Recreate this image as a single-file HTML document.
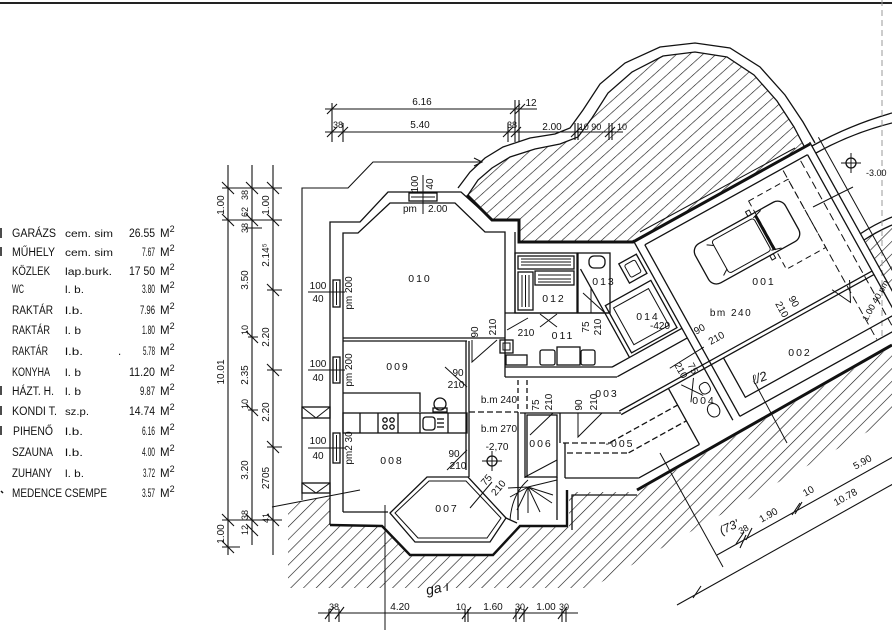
<!DOCTYPE html>
<html><head><meta charset="utf-8">
<style>
html,body{margin:0;padding:0;background:#fff;}
svg{display:block;}
text{font-family:"Liberation Sans",sans-serif;fill:#111;}
</style></head><body>
<svg width="892" height="630" viewBox="0 0 892 630" xmlns="http://www.w3.org/2000/svg">
<defs>
<pattern id="hb" width="9" height="9" patternUnits="userSpaceOnUse" patternTransform="rotate(45)">
<line x1="0" y1="0" x2="0" y2="9" stroke="#111" stroke-width="1.2"/>
</pattern>
<pattern id="ht" width="8.8" height="8.8" patternUnits="userSpaceOnUse" patternTransform="rotate(48)">
<line x1="0" y1="0" x2="0" y2="8.8" stroke="#111" stroke-width="1.2"/>
</pattern>
</defs>
<rect width="892" height="630" fill="#fff"/>
<line x1="0" y1="3" x2="892" y2="3" stroke="#222" stroke-width="2"/>

<!-- ===== TABLE ===== -->
<g font-size="11.5">
<text x="12" y="237" textLength="44" lengthAdjust="spacingAndGlyphs">GARÁZS</text><text x="65" y="237" textLength="48" lengthAdjust="spacingAndGlyphs" font-size="10">cem. sim</text><text x="129" y="237" textLength="26" lengthAdjust="spacingAndGlyphs">26.55</text><text x="160" y="237">M<tspan dy="-5" font-size="9">2</tspan></text>
<text x="12" y="256" textLength="43" lengthAdjust="spacingAndGlyphs">MŰHELY</text><text x="65" y="256" textLength="48" lengthAdjust="spacingAndGlyphs" font-size="10">cem. sim</text><text x="142" y="256" textLength="13" lengthAdjust="spacingAndGlyphs">7.67</text><text x="160" y="256">M<tspan dy="-5" font-size="9">2</tspan></text>
<text x="12" y="275" textLength="38" lengthAdjust="spacingAndGlyphs">KÖZLEK</text><text x="65" y="275" textLength="47" lengthAdjust="spacingAndGlyphs" font-size="10">lap.burk.</text><text x="129" y="275" textLength="26" lengthAdjust="spacingAndGlyphs">17 50</text><text x="160" y="275">M<tspan dy="-5" font-size="9">2</tspan></text>
<text x="12" y="293" textLength="12" lengthAdjust="spacingAndGlyphs">WC</text><text x="65" y="293" textLength="19" lengthAdjust="spacingAndGlyphs" font-size="10">l. b.</text><text x="142" y="293" textLength="13" lengthAdjust="spacingAndGlyphs">3.80</text><text x="160" y="293">M<tspan dy="-5" font-size="9">2</tspan></text>
<text x="12" y="314" textLength="41" lengthAdjust="spacingAndGlyphs">RAKTÁR</text><text x="65" y="314" textLength="18" lengthAdjust="spacingAndGlyphs" font-size="10">l.b.</text><text x="140" y="314" textLength="15" lengthAdjust="spacingAndGlyphs">7.96</text><text x="160" y="314">M<tspan dy="-5" font-size="9">2</tspan></text>
<text x="12" y="334" textLength="38" lengthAdjust="spacingAndGlyphs">RAKTÁR</text><text x="65" y="334" textLength="16" lengthAdjust="spacingAndGlyphs" font-size="10">l. b</text><text x="142" y="334" textLength="13" lengthAdjust="spacingAndGlyphs">1.80</text><text x="160" y="334">M<tspan dy="-5" font-size="9">2</tspan></text>
<text x="12" y="355" textLength="36" lengthAdjust="spacingAndGlyphs">RAKTÁR</text><text x="65" y="355" textLength="18" lengthAdjust="spacingAndGlyphs" font-size="10">l.b.</text><text x="118" y="355">.</text><text x="143" y="355" textLength="12" lengthAdjust="spacingAndGlyphs">5.78</text><text x="160" y="355">M<tspan dy="-5" font-size="9">2</tspan></text>
<text x="12" y="376" textLength="38" lengthAdjust="spacingAndGlyphs">KONYHA</text><text x="65" y="376" textLength="16" lengthAdjust="spacingAndGlyphs" font-size="10">l. b</text><text x="129" y="376" textLength="26" lengthAdjust="spacingAndGlyphs">11.20</text><text x="160" y="376">M<tspan dy="-5" font-size="9">2</tspan></text>
<text x="12" y="395" textLength="42" lengthAdjust="spacingAndGlyphs">HÁZT. H.</text><text x="65" y="395" textLength="16" lengthAdjust="spacingAndGlyphs" font-size="10">l. b</text><text x="140" y="395" textLength="15" lengthAdjust="spacingAndGlyphs">9.87</text><text x="160" y="395">M<tspan dy="-5" font-size="9">2</tspan></text>
<text x="12" y="415" textLength="45" lengthAdjust="spacingAndGlyphs">KONDI T.</text><text x="65" y="415" textLength="24" lengthAdjust="spacingAndGlyphs" font-size="10">sz.p.</text><text x="129" y="415" textLength="26" lengthAdjust="spacingAndGlyphs">14.74</text><text x="160" y="415">M<tspan dy="-5" font-size="9">2</tspan></text>
<text x="13" y="435" textLength="40" lengthAdjust="spacingAndGlyphs">PIHENŐ</text><text x="65" y="435" textLength="18" lengthAdjust="spacingAndGlyphs" font-size="10">l.b.</text><text x="142" y="435" textLength="13" lengthAdjust="spacingAndGlyphs">6.16</text><text x="160" y="435">M<tspan dy="-5" font-size="9">2</tspan></text>
<text x="12" y="456" textLength="41" lengthAdjust="spacingAndGlyphs">SZAUNA</text><text x="65" y="456" textLength="18" lengthAdjust="spacingAndGlyphs" font-size="10">l.b.</text><text x="142" y="456" textLength="13" lengthAdjust="spacingAndGlyphs">4.00</text><text x="160" y="456">M<tspan dy="-5" font-size="9">2</tspan></text>
<text x="12" y="477" textLength="40" lengthAdjust="spacingAndGlyphs">ZUHANY</text><text x="65" y="477" textLength="19" lengthAdjust="spacingAndGlyphs" font-size="10">l. b.</text><text x="143" y="477" textLength="12" lengthAdjust="spacingAndGlyphs">3.72</text><text x="160" y="477">M<tspan dy="-5" font-size="9">2</tspan></text>
<text x="12" y="497" textLength="95" lengthAdjust="spacingAndGlyphs">MEDENCE CSEMPE</text><text x="142" y="497" textLength="13" lengthAdjust="spacingAndGlyphs">3.57</text><text x="160" y="497">M<tspan dy="-5" font-size="9">2</tspan></text>
</g>
<g stroke="#111" stroke-width="1.5">
<line x1="1" y1="228" x2="1" y2="238"/><line x1="1" y1="247" x2="1" y2="256"/><line x1="1" y1="386" x2="1" y2="395"/><line x1="1" y1="406" x2="1" y2="415"/><line x1="1" y1="426" x2="1" y2="435"/><line x1="1" y1="491" x2="3" y2="493"/>
</g>

<!-- ===== HATCHES ===== -->
<path d="M468,195 L478,180 L492,168 L510,157 L535,149 L560,144 L578,137 L592,118 L608,93 L632,72 L663,56 L695,52 L727,57 L754,75 L777,101 L794,127 L804,146 L633,241 L519,241 L519,219 L492,219 Z" fill="url(#ht)"/>
<path d="M288,504 L330,496 L330,525 L382,527 L410,556 L493,556 L520,527 L569,527 L569,492 L637,492 L892,347 L892,418 L591,588 L288,588 Z" fill="url(#hb)"/>
<path d="M864,238 L892,224 L892,290 Z" fill="url(#hb)"/>

<g fill="none" stroke="#111" stroke-width="1.3">
<!-- top curved terrace outlines -->
<path d="M458,188 L470,172 L485,158 L503,147 L530,138 L555,134 L570,128 L583,110 L600,84 L625,63 L660,47 L695,43 L730,48 L760,67 L785,95 L803,122 L815,143"/>
<path d="M468,195 L478,180 L492,168 L510,157 L535,149 L560,144 L578,137 L592,118 L608,93 L632,72 L663,56 L695,52 L727,57 L754,75 L777,101 L794,127 L804,146"/>
<path d="M467,195 L492,220 L519,220 L519,242 L633,242 L810,144" stroke-width="3"/>
<path d="M640,232 L795,148" stroke-width="1"/>
<!-- right arcs -->
<path d="M812,146 Q850,125 892,113"/>
<path d="M816,153 Q852,133 892,123"/>
<path d="M860,234 Q875,224 892,217"/>
<path d="M864,240 Q878,231 892,225"/>
<line x1="882" y1="0" x2="882" y2="340" stroke="#999" stroke-width="1" stroke-dasharray="6,4"/>
<line x1="813" y1="207" x2="853" y2="187" stroke-width="1"/>

<!-- thin outer terrain line -->
<path d="M302,500 L302,188 L348,188 L373,162 L480,162" stroke-width="1.1"/>
<path d="M474,158 L482,162 L474,166" stroke-width="1.1"/>
<line x1="272" y1="507" x2="360" y2="490" stroke-width="1.1"/>
<line x1="385" y1="505" x2="385" y2="630" stroke-width="1"/>

<!-- left block walls -->
<path d="M330,525 L330,222 L360,222 L388,192 L461,192 L490,218"/>
<path d="M343,512 L343,233 L358,233 L390,203 L455,203 L485,232 L505,232 L505,377"/>
<path d="M330,525 L382,526 L410,555 L493,555 L520,526 L567,526 L567,490" stroke-width="2.4"/>
<path d="M572,530 L572,495 L637,495"/>
<path d="M637,490 L892,345" stroke-width="3"/>
<line x1="343" y1="512" x2="388" y2="512"/>
<!-- 007 bay -->
<path d="M390,513 L427,477 L468,477 L506,518 L490,542 L415,542 Z"/>
<path d="M395,513 L429,481 L466,481 L501,518 L487,538 L418,538 Z" stroke-width="1"/>
<line x1="506" y1="518" x2="517" y2="523"/>
<!-- room dividers -->
<line x1="343" y1="338" x2="505" y2="338"/><line x1="343" y1="341" x2="467" y2="341"/>
<line x1="466" y1="341" x2="466" y2="470"/><line x1="469" y1="341" x2="469" y2="477"/>
<path d="M343,393 L420,393 L420,412"/>
<rect x="343" y="413" width="124" height="20"/>
<line x1="360" y1="413" x2="360" y2="433"/><line x1="378" y1="413" x2="378" y2="433"/><line x1="398" y1="413" x2="398" y2="433"/><line x1="420" y1="413" x2="420" y2="433"/><line x1="448" y1="413" x2="448" y2="433"/>
<circle cx="385" cy="420" r="2.2"/><circle cx="392" cy="420" r="2.2"/><circle cx="385" cy="427" r="2.2"/><circle cx="392" cy="427" r="2.2"/>
<rect x="423" y="417" width="12" height="13" rx="3"/><line x1="437" y1="419" x2="444" y2="419"/><line x1="437" y1="423" x2="444" y2="423"/><line x1="437" y1="427" x2="444" y2="427"/>
<ellipse cx="440" cy="404" rx="6" ry="6"/><rect x="433" y="408" width="14" height="4"/>
<!-- corridor -->
<line x1="469" y1="412" x2="518" y2="412" stroke-dasharray="6,3"/>
<line x1="518" y1="380" x2="518" y2="412" stroke-dasharray="5,3"/><line x1="527" y1="380" x2="527" y2="412" stroke-dasharray="5,3"/>
<!-- 012 / 013 -->
<line x1="515" y1="232" x2="515" y2="313"/>
<rect x="515" y="253" width="62" height="60"/>
<rect x="578" y="253" width="32" height="60"/>
<rect x="518" y="256" width="56" height="13"/>
<line x1="521" y1="259" x2="571" y2="259" stroke-width="1"/><line x1="521" y1="262" x2="571" y2="262" stroke-width="1"/><line x1="521" y1="265" x2="571" y2="265" stroke-width="1"/>
<rect x="535" y="271" width="39" height="14"/>
<line x1="538" y1="275" x2="571" y2="275" stroke-width="1"/><line x1="538" y1="279" x2="571" y2="279" stroke-width="1"/><line x1="538" y1="282" x2="571" y2="282" stroke-width="1"/>
<rect x="518" y="272" width="15" height="38"/>
<line x1="522" y1="275" x2="522" y2="307" stroke-width="1"/><line x1="525.5" y1="275" x2="525.5" y2="307" stroke-width="1"/><line x1="529" y1="275" x2="529" y2="307" stroke-width="1"/>
<rect x="589" y="256" width="16" height="12" rx="5"/>
<line x1="591" y1="287" x2="591" y2="313" stroke-width="1"/><line x1="583" y1="293" x2="605" y2="313" stroke-width="1"/>
<!-- 011 -->
<line x1="505" y1="313" x2="610" y2="313"/>
<path d="M505,367 L612,367"/><path d="M505,377 L617,377"/>
<rect x="500" y="340" width="13" height="13"/><rect x="503" y="343" width="7" height="7" stroke-width="1"/>
<rect x="506" y="355" width="21" height="10"/>
<rect x="540" y="350" width="15" height="15" rx="2"/><rect x="557" y="347" width="23" height="18"/><rect x="581" y="350" width="14" height="15" rx="2"/>
<path d="M540,314 L557,327 M557,314 L540,327" stroke-width="1"/>
<!-- 003 / 006 / 005 / stair -->
<line x1="520" y1="413" x2="621" y2="413"/>
<line x1="518" y1="412" x2="518" y2="520"/><line x1="525" y1="413" x2="525" y2="478"/>
<rect x="527" y="415" width="30" height="62"/>
<line x1="560" y1="413" x2="560" y2="443"/>
<line x1="563" y1="443" x2="611" y2="443" stroke-dasharray="6,3"/>
<line x1="567" y1="453" x2="628" y2="453" stroke-dasharray="6,3"/>
<line x1="565" y1="443" x2="565" y2="478"/><line x1="565" y1="478" x2="638" y2="478"/>
<path d="M525,477 L557,460 M525,477 L557,477 M528,487 L557,480 M528,487 L553,495 M528,487 L552,503 M528,487 L540,512 M528,487 L528,513 M528,487 L517,510 M528,487 L510,497 M528,487 L508,488" stroke-width="1"/>
<path d="M510,520 Q512,494 528,480" stroke-width="1"/>
<line x1="557" y1="477" x2="557" y2="520"/>
<!-- door swings -->
<path d="M472,340 L472,362 L497,340" stroke-width="1"/>
<path d="M507,330 L528,318" stroke-width="1"/>
<path d="M445,367 L467,387" stroke-width="1"/>
<path d="M447,470 L467,450" stroke-width="1"/>
<path d="M530,435 L553,413" stroke-width="1"/>
<path d="M578,413 L578,437 L602,413" stroke-width="1"/>
<path d="M470,508 L492,482" stroke-width="1"/>
<!-- left windows & wells -->
<rect x="333" y="280" width="7" height="27"/><line x1="336.5" y1="282" x2="336.5" y2="305" stroke-width="1"/>
<rect x="333" y="357" width="7" height="26"/><line x1="336.5" y1="359" x2="336.5" y2="381" stroke-width="1"/>
<rect x="333" y="433" width="7" height="30"/><line x1="336.5" y1="435" x2="336.5" y2="461" stroke-width="1"/>
<line x1="308" y1="292" x2="345" y2="292" stroke-width="1"/><line x1="308" y1="370" x2="345" y2="370" stroke-width="1"/><line x1="308" y1="448" x2="345" y2="448" stroke-width="1"/>
<rect x="302" y="407" width="28" height="11"/><path d="M302,407 L316,418 L330,407" stroke-width="1"/>
<rect x="302" y="483" width="28" height="10"/><path d="M302,483 L316,493 L330,483" stroke-width="1"/>
<rect x="409" y="193" width="28" height="8"/><line x1="411" y1="197" x2="435" y2="197" stroke-width="1"/>
<line x1="423" y1="175" x2="423" y2="214" stroke-width="1"/>

<!-- crosshairs -->
<circle cx="492" cy="461" r="5"/><path d="M482,461 H502 M492,451 V471" stroke-width="1"/>
<circle cx="851" cy="163" r="5"/><path d="M841,163 H861 M851,153 V173" stroke-width="1"/>

<!-- ===== ROTATED GARAGE PART ===== -->
<g transform="translate(633,240) rotate(-29)">
<line x1="0" y1="0" x2="0" y2="206"/><line x1="8" y1="10" x2="8" y2="206"/>
<line x1="8" y1="10" x2="194" y2="10"/>
<line x1="194" y1="10" x2="194" y2="240"/><line x1="202" y1="0" x2="202" y2="240"/><line x1="212" y1="0" x2="212" y2="240" stroke-width="1"/>
<line x1="-95" y1="143" x2="194" y2="143"/><line x1="-95" y1="147" x2="194" y2="147"/>
<line x1="-80" y1="101" x2="0" y2="101"/><line x1="-80" y1="112" x2="0" y2="112"/>
<path d="M22,147 L22,192 L194,192"/>
<line x1="8" y1="206" x2="240" y2="206"/>
<line x1="-41" y1="147" x2="-41" y2="211"/>
<line x1="-111" y1="211" x2="-41" y2="211"/>
<line x1="-118" y1="166" x2="-41" y2="166" stroke-dasharray="6,3"/>
<line x1="-107" y1="184" x2="-41" y2="184" stroke-dasharray="6,3"/>
<rect x="-56" y="44" width="52" height="54"/>
<rect x="-50" y="50" width="40" height="42" stroke-width="1"/>
<rect x="-24" y="14" width="20" height="22"/>
<rect x="-20" y="18" width="12" height="14" rx="2" stroke-width="1"/>
<line x1="-60" y1="0" x2="-60" y2="101"/>
<!-- car -->
<rect x="47" y="35" width="103" height="45" rx="9"/>
<rect x="68" y="39" width="48" height="37" rx="3" stroke-width="1"/>
<path d="M116,39 L126,36 M116,76 L126,79 M62,40 L68,44 M62,75 L68,71" stroke-width="1"/>
<line x1="119" y1="38" x2="119" y2="77" stroke-width="3"/>
<rect x="112" y="30" width="4" height="5" stroke-width="1"/><rect x="112" y="80" width="4" height="5" stroke-width="1"/>
<!-- dashed parking lines -->
<rect x="120" y="22" width="45" height="78" stroke-dasharray="6,4" stroke-width="1"/>
<line x1="165" y1="12" x2="165" y2="205" stroke-dasharray="8,4" stroke-width="1"/>
<line x1="185" y1="12" x2="185" y2="205" stroke-dasharray="8,4" stroke-width="1"/>
<!-- 004 fixtures -->
<rect x="-14" y="159" width="10" height="11" rx="4" stroke-width="1"/>
<ellipse cx="-12" cy="188" rx="6" ry="7" stroke-width="1"/>
<!-- doors -->
<path d="M-30,130 L10,128" stroke-width="1"/>
<path d="M-28,150 L-14,170 M-14,150 L-28,170" stroke-width="1"/>
<path d="M150,140 L160,160 L170,140" stroke-width="1"/>
</g>

<!-- lower right dims (rotated ~29deg) -->
<line x1="717" y1="555" x2="893" y2="457" stroke-width="1.1"/>
<line x1="677" y1="605" x2="893" y2="484" stroke-width="1.1"/>
<path d="M736,544 L744,532 M740,548 L746,535 M746,540 L752,528 M792,515 L800,503 M795,514 L802,502 M693,598 L701,586" stroke-width="1.1"/>
<line x1="660" y1="453" x2="723" y2="567" stroke-width="1"/>
<line x1="755" y1="383" x2="787" y2="443" stroke-width="1"/>

<!-- top dims -->
<line x1="325" y1="109" x2="537" y2="109" stroke-width="1.1"/>
<line x1="325" y1="132" x2="623" y2="132" stroke-width="1.1"/>
<path d="M332,103 V142 M343,123 V142 M508,123 V142 M515,100 V142 M519,100 V142 M575,123 V140 M578,123 V140 M609,123 V140 M612,123 V140" stroke-width="1.1"/>
<path d="M327,114 L337,104 M327,137 L337,127 M338,137 L348,127 M503,137 L513,127 M510,114 L520,104 M515,114 L525,104 M511,137 L521,127 M571,137 L581,127 M605,137 L615,127" stroke-width="1.1"/>

<!-- left dims -->
<line x1="228" y1="165" x2="228" y2="555" stroke-width="1.1"/>
<line x1="252" y1="165" x2="252" y2="545" stroke-width="1.1"/>
<line x1="273" y1="165" x2="273" y2="555" stroke-width="1.1"/>
<path d="M222,188 H282 M222,220 H282 M222,520 H282 M222,547 H240 M267,290 H282 M267,370 H282 M267,447 H282 M248,337 H258 M248,410 H258 M246,228 H262" stroke-width="1.1"/>
<path d="M222,182 L234,194 M246,182 L258,194 M267,182 L279,194 M222,214 L234,226 M246,214 L258,226 M267,214 L279,226 M267,284 L279,296 M267,364 L279,376 M267,441 L279,453 M246,331 L258,343 M246,404 L258,416 M222,514 L234,526 M246,514 L258,526 M267,514 L279,526 M222,541 L234,553 M246,524 L258,536" stroke-width="1.1"/>
<path d="M329,609 V622 M339,609 V622 M465,609 V622 M468,609 V622 M516,609 V622 M524,609 V622 M562,609 V622 M566,609 V622" stroke-width="1.1"/>
<path d="M325,619 L334,607 M335,619 L344,607 M462,619 L471,607 M513,619 L521,607 M519,619 L528,607 M558,619 L567,607" stroke-width="1.1"/>
<line x1="318" y1="613" x2="578" y2="613" stroke-width="1.1"/>
</g>

<!-- ===== PLAN TEXT ===== -->
<g font-size="10.5" letter-spacing="2">
<text x="420" y="282" text-anchor="middle">010</text>
<text x="398" y="370" text-anchor="middle">009</text>
<text x="392" y="464" text-anchor="middle">008</text>
<text x="447" y="512" text-anchor="middle">007</text>
<text x="541" y="447" text-anchor="middle">006</text>
<text x="607" y="397" text-anchor="middle">003</text>
<text x="563" y="339" text-anchor="middle">011</text>
<text x="554" y="302" text-anchor="middle">012</text>
<text x="604" y="285" text-anchor="middle">013</text>
<text x="764" y="285" text-anchor="middle">001</text>
<text x="800" y="356" text-anchor="middle">002</text>
<text x="704" y="404" text-anchor="middle">004</text>
<text x="648" y="320" text-anchor="middle">014</text>
<text x="620" y="447" text-anchor="middle">-005</text>
</g>
<g font-size="10">
<text x="731" y="316" text-anchor="middle" letter-spacing="1.5">bm 240</text>
<text x="660" y="329" text-anchor="middle">-420</text>
<text x="499" y="403" text-anchor="middle">b.m 240</text>
<text x="499" y="432" text-anchor="middle">b.m 270</text>
<text x="497" y="450" text-anchor="middle">-2,70</text>
<text x="866" y="176" font-size="9">-3.00</text>
<text x="403" y="212">pm</text><text x="428" y="212">2.00</text>
<text transform="translate(418,184) rotate(-90)" text-anchor="middle">100</text>
<text transform="translate(433,184) rotate(-90)" text-anchor="middle">40</text>
<text x="318" y="289" text-anchor="middle">100</text><text x="318" y="302" text-anchor="middle">40</text>
<text x="318" y="367" text-anchor="middle">100</text><text x="318" y="381" text-anchor="middle">40</text>
<text x="318" y="444" text-anchor="middle">100</text><text x="318" y="459" text-anchor="middle">40</text>
<text transform="translate(352,293) rotate(-90)" text-anchor="middle">pm 200</text>
<text transform="translate(352,370) rotate(-90)" text-anchor="middle">pm 200</text>
<text transform="translate(352,448) rotate(-90)" text-anchor="middle">pm2 30</text>
<!-- door labels -->
<text transform="translate(478,332) rotate(-90)" text-anchor="middle">90</text>
<text transform="translate(496,327) rotate(-90)" text-anchor="middle">210</text>
<text x="526" y="336" text-anchor="middle">210</text>
<text transform="translate(589,327) rotate(-90)" text-anchor="middle">75</text>
<text transform="translate(601,327) rotate(-90)" text-anchor="middle">210</text>
<text x="458" y="376" text-anchor="middle">90</text>
<text x="456" y="388" text-anchor="middle">210</text>
<text transform="translate(539,405) rotate(-90)" text-anchor="middle">75</text>
<text transform="translate(552,402) rotate(-90)" text-anchor="middle">210</text>
<text transform="translate(582,405) rotate(-90)" text-anchor="middle">90</text>
<text transform="translate(597,402) rotate(-90)" text-anchor="middle">210</text>
<text x="454" y="457" text-anchor="middle">90</text>
<text x="458" y="469" text-anchor="middle">210</text>
<text transform="translate(489,482) rotate(-50)" text-anchor="middle">75</text>
<text transform="translate(501,490) rotate(-50)" text-anchor="middle">210</text>
<text transform="translate(701,332) rotate(-29)" text-anchor="middle">90</text>
<text transform="translate(718,341) rotate(-29)" text-anchor="middle">210</text>
<text transform="translate(690,370) rotate(61)" text-anchor="middle">75</text>
<text transform="translate(678,372) rotate(61)" text-anchor="middle">210</text>
<text transform="translate(791,303) rotate(61)" text-anchor="middle">90</text>
<text transform="translate(779,311) rotate(61)" text-anchor="middle">210</text>
<text transform="translate(878,302) rotate(-61)" text-anchor="middle" font-size="9">1.00 40 pm</text>
<!-- top dims -->
<text x="422" y="105" text-anchor="middle">6.16</text>
<text x="420" y="128" text-anchor="middle">5.40</text>
<text x="338" y="128" text-anchor="middle" font-size="9">38</text>
<text x="512" y="128" text-anchor="middle" font-size="9">38</text>
<text x="531" y="106" text-anchor="middle">12</text>
<text x="552" y="130" text-anchor="middle">2.00</text>
<text x="590" y="130" text-anchor="middle" font-size="9">10 90</text>
<text x="622" y="130" text-anchor="middle" font-size="9">10</text>
<!-- left dims -->
<text transform="translate(224,205) rotate(-90)" text-anchor="middle">1.00</text>
<text transform="translate(224,372) rotate(-90)" text-anchor="middle">10.01</text>
<text transform="translate(224,534) rotate(-90)" text-anchor="middle">1.00</text>
<text transform="translate(248,195) rotate(-90)" text-anchor="middle" font-size="9">38</text>
<text transform="translate(248,212) rotate(-90)" text-anchor="middle" font-size="9">62</text>
<text transform="translate(248,228) rotate(-90)" text-anchor="middle" font-size="9">38</text>
<text transform="translate(248,280) rotate(-90)" text-anchor="middle">3.50</text>
<text transform="translate(248,330) rotate(-90)" text-anchor="middle" font-size="9">10</text>
<text transform="translate(248,375) rotate(-90)" text-anchor="middle">2.35</text>
<text transform="translate(248,404) rotate(-90)" text-anchor="middle" font-size="9">10</text>
<text transform="translate(248,470) rotate(-90)" text-anchor="middle">3.20</text>
<text transform="translate(248,515) rotate(-90)" text-anchor="middle" font-size="9">38</text>
<text transform="translate(248,530) rotate(-90)" text-anchor="middle" font-size="9">12</text>
<text transform="translate(269,205) rotate(-90)" text-anchor="middle">1.00</text>
<text transform="translate(269,255) rotate(-90)" text-anchor="middle">2.14⁵</text>
<text transform="translate(269,337) rotate(-90)" text-anchor="middle">2.20</text>
<text transform="translate(269,412) rotate(-90)" text-anchor="middle">2.20</text>
<text transform="translate(269,478) rotate(-90)" text-anchor="middle">2705</text>
<text transform="translate(269,518) rotate(-90)" text-anchor="middle" font-size="9">41</text>
<!-- bottom dims -->
<text x="334" y="610" text-anchor="middle" font-size="9">38</text>
<text x="400" y="610" text-anchor="middle">4.20</text>
<text x="461" y="610" text-anchor="middle" font-size="9">10</text>
<text x="493" y="610" text-anchor="middle">1.60</text>
<text x="520" y="610" text-anchor="middle" font-size="9">30</text>
<text x="546" y="610" text-anchor="middle">1.00</text>
<text x="564" y="610" text-anchor="middle" font-size="9">30</text>
<!-- lower right rotated dims -->
<text transform="translate(745,532) rotate(-29)" text-anchor="middle" font-size="9">38</text>
<text transform="translate(770,518) rotate(-29)" text-anchor="middle">1.90</text>
<text transform="translate(810,494) rotate(-29)" text-anchor="middle">10</text>
<text transform="translate(864,465) rotate(-29)" text-anchor="middle">5.90</text>
<text transform="translate(847,500) rotate(-29)" text-anchor="middle">10.78</text>
</g>
<!-- handwriting -->
<g font-family="Liberation Serif, serif" font-style="italic" fill="#333">
<text x="426" y="594" font-size="14" transform="rotate(-12 432 590)">ga ı</text>
<text x="752" y="382" font-size="13" transform="rotate(-20 760 378)">ℓ/2</text>
<text x="720" y="533" font-size="12" transform="rotate(-25 725 530)">(73'</text>
</g>
</svg>
</body></html>
